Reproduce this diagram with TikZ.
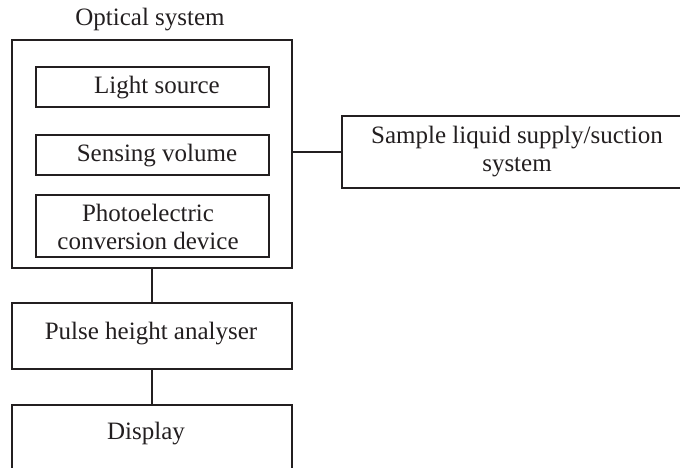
\documentclass[tikz,border=0pt]{standalone}
\usepackage{fontspec}
\setmainfont{Liberation Serif}
\definecolor{ink}{HTML}{231F20}
\begin{document}
\begin{tikzpicture}[x=1pt,y=-1pt,
  box/.style={draw=ink,line width=1.3pt,text=ink,inner sep=0pt,align=center,font=\fontsize{25}{28}\selectfont},
  lbl/.style={text=ink,inner sep=0pt,align=center,font=\fontsize{25}{28}\selectfont},
  link/.style={draw=ink,line width=1.3pt}]
\useasboundingbox (0,0) rectangle (680,468);
\clip (0,0) rectangle (680,468);
\node[lbl] (title) at (150,20) {Optical system};
\node[box,minimum width=280pt,minimum height=228pt] (optical) at (152,154) {};
\node[box,minimum width=233pt,minimum height=40pt] (light) at (152.5,87) {};
\node[lbl] (lightt) at (157,88) {Light source};
\node[box,minimum width=233pt,minimum height=40pt] (sensing) at (152.5,155) {};
\node[lbl] (sensingt) at (157,156) {Sensing volume};
\node[box,minimum width=233pt,minimum height=62pt] (photo) at (152.5,226) {};
\node[lbl] (phototext) at (148,227) {Photoelectric\\conversion device};
\node[box,minimum width=350pt,minimum height=72pt] (sample) at (517,152) {};
\node[lbl] (samplet) at (517,152) {Sample liquid supply/suction\\system};
\node[box,minimum width=280pt,minimum height=66pt] (pulse) at (152,336) {};
\node[lbl] (pulset) at (151,334) {Pulse height analyser};
\node[box,minimum width=280pt,minimum height=66pt] (display) at (152,438) {};
\node[lbl] (displayt) at (146,434) {Display};
\draw[link] (optical.east |- sample.west) -- (sample.west);
\draw[link] (optical.south) -- (pulse.north);
\draw[link] (pulse.south) -- (display.north);
\end{tikzpicture}
\end{document}
